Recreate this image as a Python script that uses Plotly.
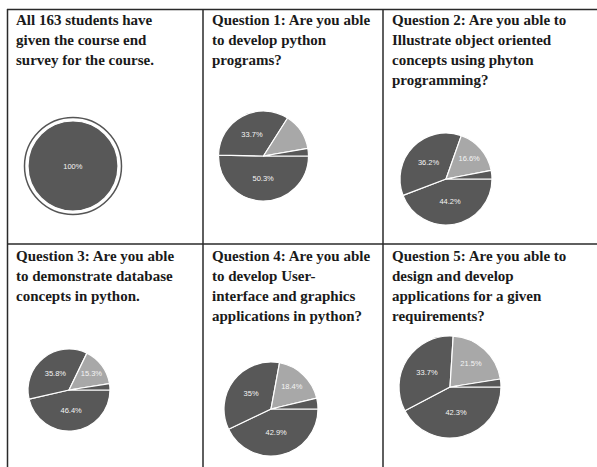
import plotly.graph_objects as go

W, H = 597, 467

# ---- data ----
slice_names = ["Response A", "Response B", "Response C", "Response D"]
q0_values = [100]
q1_values = [50.3, 33.7, 13.3, 2.7]
q2_values = [44.2, 36.2, 16.6, 3.0]
q3_values = [46.4, 35.8, 15.3, 2.5]
q4_values = [42.9, 35.0, 18.4, 3.7]
q5_values = [42.3, 33.7, 21.5, 2.5]
q1_show = [True, True, False, False]
q2_show = [True, True, True, False]
q3_show = [True, True, True, False]
q4_show = [True, True, True, False]
q5_show = [True, True, True, False]

cell0_text = ["All 163 students have", "given the course end", "survey for the course."]
cell1_text = ["Question 1: Are you able", "to develop python", "programs?"]
cell2_text = ["Question 2: Are you able to", "Illustrate object oriented",
              "concepts using phyton", "programming?"]
cell3_text = ["Question 3: Are you able", "to demonstrate database", "concepts in python."]
cell4_text = ["Question 4: Are you able", "to develop User-",
              "interface and graphics", "applications in python?"]
cell5_text = ["Question 5: Are you able to", "design and develop",
              "applications for a given", "requirements?"]

DARK = "#585858"
LIGHT = "#a8a8a8"
slice_colors = [DARK, DARK, LIGHT, DARK]


def px(x):
    return x / W


def py(y):
    return 1 - y / H


fig = go.Figure()

pies = [
    (q0_values, [True], (73, 166), 45),
    (q1_values, q1_show, (263.5, 156), 45),
    (q2_values, q2_show, (446, 179), 46),
    (q3_values, q3_show, (69, 390), 41),
    (q4_values, q4_show, (271, 409), 47),
    (q5_values, q5_show, (450, 387), 51),
]

for vals, show, (cx, cy), r in pies:
    n = len(vals)
    texts = [f"{v:g}%" if s else "" for v, s in zip(vals, show)]
    fig.add_trace(go.Pie(
        labels=slice_names[:n],
        values=vals,
        text=texts,
        texttemplate="%{text}",
        textposition="inside",
        insidetextorientation="horizontal",
        textfont=dict(family="Liberation Sans", size=7.5, color="#f4f4f4"),
        marker=dict(colors=slice_colors[:n], line=dict(color="white", width=1.2)),
        sort=False,
        direction="clockwise",
        rotation=90,
        showlegend=False,
        hoverinfo="label+percent",
        domain=dict(x=[px(cx - r), px(cx + r)], y=[py(cy + r), py(cy - r)]),
    ))

shapes = []
LC = "#2a2a2a"
LW = 1.5
# grid lines of the table
shapes.append(dict(type="line", xref="paper", yref="paper", x0=px(7), x1=px(597), y0=py(9.5), y1=py(9.5),
                   line=dict(color=LC, width=LW)))
shapes.append(dict(type="line", xref="paper", yref="paper", x0=px(7), x1=px(597), y0=py(244), y1=py(244),
                   line=dict(color=LC, width=LW)))
for xv in [7.5, 203, 383]:
    shapes.append(dict(type="line", xref="paper", yref="paper", x0=px(xv), x1=px(xv), y0=py(9), y1=py(467),
                       line=dict(color=LC, width=LW)))
# outline ring around the single-slice pie
shapes.append(dict(type="circle", xref="paper", yref="paper",
                   x0=px(73 - 48.5), x1=px(73 + 48.5), y0=py(166 + 48.5), y1=py(166 - 48.5),
                   line=dict(color="#555555", width=1.5)))

annotations = []
cells = [
    (cell0_text, 14, 20),
    (cell1_text, 210, 20),
    (cell2_text, 390, 20),
    (cell3_text, 14, 256),
    (cell4_text, 210, 256),
    (cell5_text, 390, 256),
]
for lines, x0, y0 in cells:
    for i, line in enumerate(lines):
        annotations.append(dict(
            text="<b>" + line + "</b>", xref="paper", yref="paper", x=px(x0), y=py(y0 + 20 * i),
            xanchor="left", yanchor="middle", showarrow=False,
            font=dict(family="Liberation Serif", size=15, color="#1a1a1a"),
            align="left",
        ))

fig.update_layout(
    width=W, height=H,
    margin=dict(l=0, r=0, t=0, b=0),
    paper_bgcolor="white",
    plot_bgcolor="white",
    shapes=shapes,
    annotations=annotations,
)

fig.write_html("out.html")
